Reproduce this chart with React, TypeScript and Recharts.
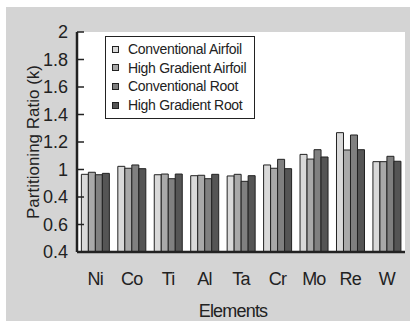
import React from "react";
import { Bar, BarChart, CartesianGrid, Label, Legend, XAxis, YAxis } from "recharts";

const ELEMENTS = ["Ni", "Co", "Ti", "Al", "Ta", "Cr", "Mo", "Re", "W"];
const CONV_AIRFOIL = [0.965, 1.023, 0.962, 0.955, 0.953, 1.033, 1.11, 1.268, 1.057];
const HG_AIRFOIL = [0.98, 1.009, 0.967, 0.958, 0.965, 1.009, 1.076, 1.142, 1.057];
const CONV_ROOT = [0.962, 1.033, 0.933, 0.933, 0.914, 1.074, 1.144, 1.251, 1.096];
const HG_ROOT = [0.972, 1.006, 0.967, 0.965, 0.955, 1.006, 1.091, 1.144, 1.06];

// the printed figure labels the 0.8 tick as "0.4" - kept as in the source
const Y_TICKS = [0.4, 0.6, 0.8, 1, 1.2, 1.4, 1.6, 1.8, 2];
const Y_TICK_LABELS = ["0.4", "0.6", "0.4", "1", "1.2", "1.4", "1.6", "1.8", "2"];

const SERIES = [
  { key: "convAirfoil", name: "Conventional Airfoil", color: "#d9d9d9" },
  { key: "hgAirfoil", name: "High Gradient Airfoil", color: "#a9a9a9" },
  { key: "convRoot", name: "Conventional Root", color: "#808080" },
  { key: "hgRoot", name: "High Gradient Root", color: "#555555" },
];

const FONT = "'Liberation Sans', Arial, Helvetica, sans-serif";
const INK = "#222";

const data = ELEMENTS.map((name, i) => ({
  name,
  convAirfoil: CONV_AIRFOIL[i],
  hgAirfoil: HG_AIRFOIL[i],
  convRoot: CONV_ROOT[i],
  hgRoot: HG_ROOT[i],
}));

const TICK_GAP = 9;

const YTick = (props: any) => {
  const { x, y, payload } = props;
  const idx = Y_TICKS.findIndex((t) => Math.abs(t - payload.value) < 1e-6);
  return (
    <g>
      <line x1={x + TICK_GAP} x2={x + TICK_GAP + 7} y1={y} y2={y} stroke={INK} strokeWidth={1.5} />
      <text x={x} y={y} dy="0.35em" textAnchor="end" fill={INK} fontSize={18} fontFamily={FONT}>
        {idx >= 0 ? Y_TICK_LABELS[idx] : ""}
      </text>
    </g>
  );
};

const XTick = (props: any) => {
  const { x, y, payload } = props;
  return (
    <text x={x} y={y} dy="0.71em" textAnchor="middle" fill={INK} fontSize={18} fontFamily={FONT} letterSpacing={-0.8}>
      {payload.value}
    </text>
  );
};

const YLabel = (props: any) => {
  const { x, y, height } = props.viewBox;
  const cx = x + 27;
  const cy = y + height / 2;
  return (
    <text x={cx} y={cy} dy="0.35em" textAnchor="middle" transform={`rotate(-90 ${cx} ${cy})`} fill={INK} fontSize={17} fontFamily={FONT}>
      Partitioning Ratio (k)
    </text>
  );
};

const XLabel = (props: any) => {
  const { x, y, width } = props.viewBox;
  return (
    <text x={x + width / 2 - 8} y={y + 59} dy="0.35em" textAnchor="middle" fill={INK} fontSize={18} fontFamily={FONT} letterSpacing={-0.8}>
      Elements
    </text>
  );
};

const LegendBox = () => (
  <div
    style={{
      boxSizing: "border-box",
      width: 150,
      height: 83,
      border: `1.5px solid ${INK}`,
      background: "#fff",
      paddingTop: 3,
      fontFamily: FONT,
      fontSize: 14,
      letterSpacing: -0.3,
      color: INK,
    }}
  >
    {SERIES.map((s) => (
      <div key={s.key} style={{ display: "flex", alignItems: "center", height: 18.6, whiteSpace: "nowrap" }}>
        <span
          style={{
            display: "inline-block",
            boxSizing: "border-box",
            width: 7,
            height: 7,
            marginLeft: 6,
            marginRight: 9,
            background: s.color,
            border: `1px solid ${INK}`,
          }}
        />
        <span>{s.name}</span>
      </div>
    ))}
  </div>
);

export default function App() {
  return (
    <div style={{ position: "fixed", left: 6, top: 7, width: 404, height: 314, background: "#d4d4d4" }}>
      <BarChart
        width={404}
        height={314}
        data={data}
        margin={{ top: 25, right: 5, left: 0, bottom: 0 }}
        barCategoryGap="12%"
        barGap={0}
      >
        <CartesianGrid horizontal={false} vertical={false} fill="#fff" />
        <XAxis
          dataKey="name"
          height={69}
          tickSize={0}
          tickMargin={20}
          tick={<XTick />}
          axisLine={{ stroke: INK, strokeWidth: 2.5 }}
          tickLine={false}
          interval={0}
        >
          <Label content={<XLabel />} />
        </XAxis>
        <XAxis xAxisId="top" orientation="top" dataKey="name" height={0} tick={false} tickLine={false} axisLine={{ stroke: INK, strokeWidth: 2.5 }} />
        <YAxis
          width={71}
          domain={[0.4, 2]}
          ticks={Y_TICKS}
          tickSize={0}
          tickMargin={TICK_GAP}
          tick={<YTick />}
          tickLine={false}
          axisLine={{ stroke: INK, strokeWidth: 2.5 }}
          allowDataOverflow
        >
          <Label content={<YLabel />} />
        </YAxis>
        <YAxis yAxisId="right" orientation="right" width={0} domain={[0.4, 2]} tick={false} tickLine={false} axisLine={{ stroke: INK, strokeWidth: 2.5 }} />
        <Legend
          layout="vertical"
          align="center"
          verticalAlign="middle"
          content={<LegendBox />}
          wrapperStyle={{ left: 99, top: 29, width: 150, height: 83 }}
        />
        {SERIES.map((s) => (
          <Bar key={s.key} dataKey={s.key} name={s.name} fill={s.color} stroke={INK} strokeWidth={1} isAnimationActive={false} />
        ))}
      </BarChart>
    </div>
  );
}
